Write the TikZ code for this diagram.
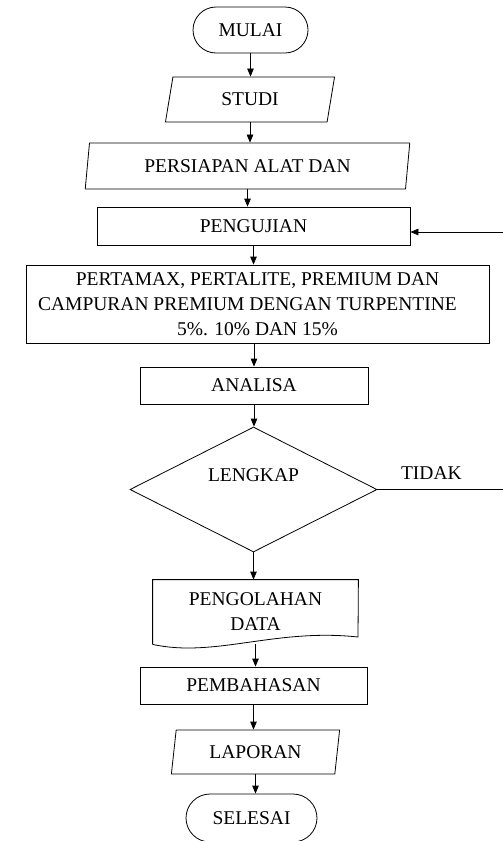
\documentclass[tikz,border=0pt]{standalone}
\usepackage{fontspec}
\setmainfont{Liberation Serif}
\usetikzlibrary{shapes.geometric,shapes.misc,arrows.meta}

\tikzset{
    startstop/.style = {draw, rounded rectangle, minimum width = 115, minimum height = 46, inner sep = 0pt},
    iobox/.style = {draw, trapezium, trapezium left angle = 78, trapezium right angle = 102,
        trapezium stretches = true, inner sep = 0pt},
    process/.style = {draw, rectangle, inner sep = 0pt, align = center},
    decision/.style = {draw, diamond, minimum width = 247, minimum height = 125, inner sep = 0pt},
    arrow/.style = {-{Triangle[length = 8pt, width = 6.5pt]}}
}

\begin{document}
\begin{tikzpicture}[x = 1pt, y = -1pt, line width = 0.8pt, font = \fontsize{19.5}{25}\selectfont]
        \useasboundingbox (0, 0) rectangle (503, 841);

        % Nodes
        \node [startstop] (mulai) at (250.5, 30) {MULAI};
        \node [iobox, minimum width = 170, minimum height = 45] (studi) at (250, 99.5) {STUDI};
        \node [iobox, minimum width = 325, minimum height = 46] (persiapan) at (247.5, 166) {PERSIAPAN ALAT DAN};
        \node [process, minimum width = 313, minimum height = 38] (pengujian) at (253.5, 226) {PENGUJIAN};
        \node [process, minimum width = 463, minimum height = 78] (bahan) at (257.5, 304)
            {\hspace*{-20pt}PERTAMAX, PERTALITE, PREMIUM DAN\hspace*{-20pt}\\\hspace*{-20pt}CAMPURAN PREMIUM DENGAN TURPENTINE\hspace*{-20pt}\\\hspace*{-20pt}5\%. 10\% DAN 15\%\hspace*{-20pt}};
        \node [process, minimum width = 228, minimum height = 37] (analisa) at (254, 385.5) {ANALISA};
        \node [decision, label = {[yshift = 14pt]center:LENGKAP}] (lengkap) at (253.5, 489.5) {};
        \node [process, draw = none, minimum width = 205, minimum height = 64] (pengolahan) at (255.5, 612)
            {PENGOLAHAN\\DATA};
        \node [process, minimum width = 227, minimum height = 37] (pembahasan) at (253.5, 685.5) {PEMBAHASAN};
        \node [iobox, minimum width = 169, minimum height = 44] (laporan) at (255.5, 752) {LAPORAN};
        \node [startstop, minimum width = 131, minimum height = 48] (selesai) at (251.5, 818) {SELESAI};

        % Document outline
        \draw (pengolahan.south west) -- (pengolahan.north west) -- (pengolahan.north east) -- (358, 637)
            .. controls (275, 628) and (215, 658) .. (pengolahan.south west);

        % Loose ends on the right
        \coordinate (tidakend) at (503, 489.5);
        \coordinate (balik) at (503, 232);

        % Draw the links
        \draw [arrow] (mulai.south) -- (mulai.south |- studi.north);
        \draw [arrow] (studi.south) -- (studi.south |- persiapan.north);
        \draw [arrow] (persiapan.south) -- (persiapan.south |- pengujian.north);
        \draw [arrow] (pengujian.south) -- (pengujian.south |- bahan.north);
        \draw [arrow] (analisa.north |- bahan.south) -- (analisa.north);
        \draw [arrow] (analisa.south) -- (analisa.south |- lengkap.north);
        \draw [arrow] (lengkap.south) -- (lengkap.south |- pengolahan.north);
        \draw [arrow] (pengolahan.south) -- (pengolahan.south |- pembahasan.north);
        \draw [arrow] (pembahasan.south) -- (pembahasan.south |- laporan.north);
        \draw [arrow] (laporan.south) -- (laporan.south |- selesai.north);

        % Feedback
        \draw (lengkap.east) -- node [above = 6pt, pos = 0.43] {TIDAK} (tidakend);
        \draw [arrow] (balik) -- (pengujian.east |- balik);

    \end{tikzpicture}
\end{document}
